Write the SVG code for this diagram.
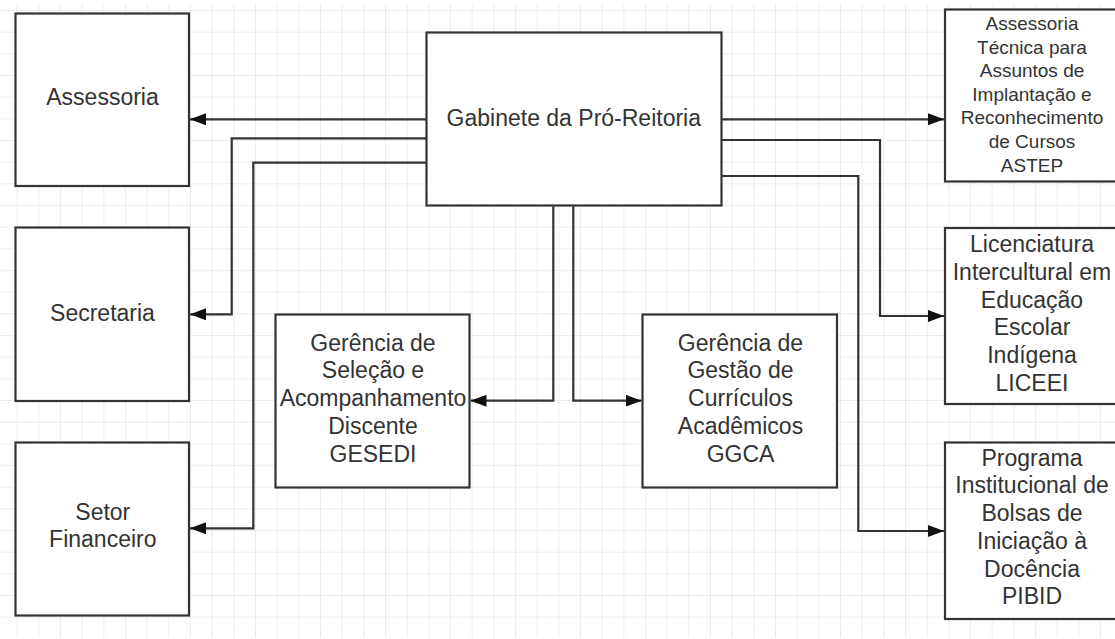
<svg xmlns="http://www.w3.org/2000/svg" width="1115" height="639" viewBox="0 0 1115 639">
<style>
.box{fill:#ffffff;stroke:#333333;stroke-width:2.2}
.lbl{font-family:"Liberation Sans",Arial,sans-serif;font-size:23px;fill:#333333;text-anchor:middle}
.sm{font-size:19px}
.con{fill:none;stroke:#333333;stroke-width:2.2;marker-end:url(#arr)}
</style>
<defs>
<pattern id="grid" patternUnits="userSpaceOnUse" x="16.667" y="10" width="21.667" height="21.667">
<path d="M0,0 V21.667 M0,0 H21.667" fill="none" stroke="#e6e6e6" stroke-width="1.4"/>
</pattern>
<marker id="arr" markerUnits="userSpaceOnUse" markerWidth="17" markerHeight="13" refX="16" refY="6" orient="auto">
<path d="M0,0 L16,6 L0,12 Z" fill="#111111"/>
</marker>
</defs>
<rect x="0" y="4" width="1115" height="634" fill="url(#grid)"/>
<g id="connectors">
<path class="con" d="M426,119.3 H190"/>
<path class="con" d="M426,138.3 H231.7 V314.3 H190"/>
<path class="con" d="M426,162.7 H253.3 V528.3 H190"/>
<path class="con" d="M722,119.3 H944"/>
<path class="con" d="M722,140 H880 V316 H944"/>
<path class="con" d="M722,176 H858.3 V531 H944"/>
<path class="con" d="M553.3,206 V400.7 H470.5"/>
<path class="con" d="M573.3,206 V400.7 H641.5"/>
</g>
<g id="assessoria">
<rect class="box" x="15.5" y="13.5" width="173.5" height="172.5"/>
<text class="lbl" x="102.5" y="105">Assessoria</text>
</g>
<g id="secretaria">
<rect class="box" x="15.5" y="227.5" width="173.5" height="173.5"/>
<text class="lbl" x="102.5" y="320.5">Secretaria</text>
</g>
<g id="setor-financeiro">
<rect class="box" x="15.5" y="442.5" width="173.5" height="173"/>
<text class="lbl" x="102.8" y="520">Setor</text>
<text class="lbl" x="102.8" y="547.3">Financeiro</text>
</g>
<g id="gabinete">
<rect class="box" x="426.5" y="32.5" width="295" height="173"/>
<text class="lbl" x="573.8" y="125.5">Gabinete da Pró-Reitoria</text>
</g>
<g id="gesedi">
<rect class="box" x="275.5" y="314.5" width="194" height="173"/>
<text class="lbl" x="373" y="350.7">Gerência de</text>
<text class="lbl" x="373" y="378.4">Seleção e</text>
<text class="lbl" x="373" y="406.1">Acompanhamento</text>
<text class="lbl" x="373" y="433.8">Discente</text>
<text class="lbl" x="373" y="461.5">GESEDI</text>
</g>
<g id="ggca">
<rect class="box" x="642.5" y="314.5" width="194.5" height="173"/>
<text class="lbl" x="740.5" y="350.7">Gerência de</text>
<text class="lbl" x="740.5" y="378.4">Gestão de</text>
<text class="lbl" x="740.5" y="406.1">Currículos</text>
<text class="lbl" x="740.5" y="433.8">Acadêmicos</text>
<text class="lbl" x="740.5" y="461.5">GGCA</text>
</g>
<g id="astep">
<rect class="box" x="945" y="9.5" width="174" height="172"/>
<text class="lbl sm" x="1032" y="30">Assessoria</text>
<text class="lbl sm" x="1032" y="53.6">Técnica para</text>
<text class="lbl sm" x="1032" y="77.2">Assuntos de</text>
<text class="lbl sm" x="1032" y="100.8">Implantação e</text>
<text class="lbl sm" x="1032" y="124.4">Reconhecimento</text>
<text class="lbl sm" x="1032" y="148">de Cursos</text>
<text class="lbl sm" x="1032" y="171.6">ASTEP</text>
</g>
<g id="liceei">
<rect class="box" x="945" y="228" width="174" height="176"/>
<text class="lbl" x="1032" y="252.3">Licenciatura</text>
<text class="lbl" x="1032" y="280">Intercultural em</text>
<text class="lbl" x="1032" y="307.7">Educação</text>
<text class="lbl" x="1032" y="335.4">Escolar</text>
<text class="lbl" x="1032" y="363.1">Indígena</text>
<text class="lbl" x="1032" y="390.8">LICEEI</text>
</g>
<g id="pibid">
<rect class="box" x="945" y="442.5" width="174" height="176.5"/>
<text class="lbl" x="1032" y="465.7">Programa</text>
<text class="lbl" x="1032" y="493.4">Institucional de</text>
<text class="lbl" x="1032" y="521.1">Bolsas de</text>
<text class="lbl" x="1032" y="548.8">Iniciação à</text>
<text class="lbl" x="1032" y="576.5">Docência</text>
<text class="lbl" x="1032" y="604.2">PIBID</text>
</g>
</svg>
